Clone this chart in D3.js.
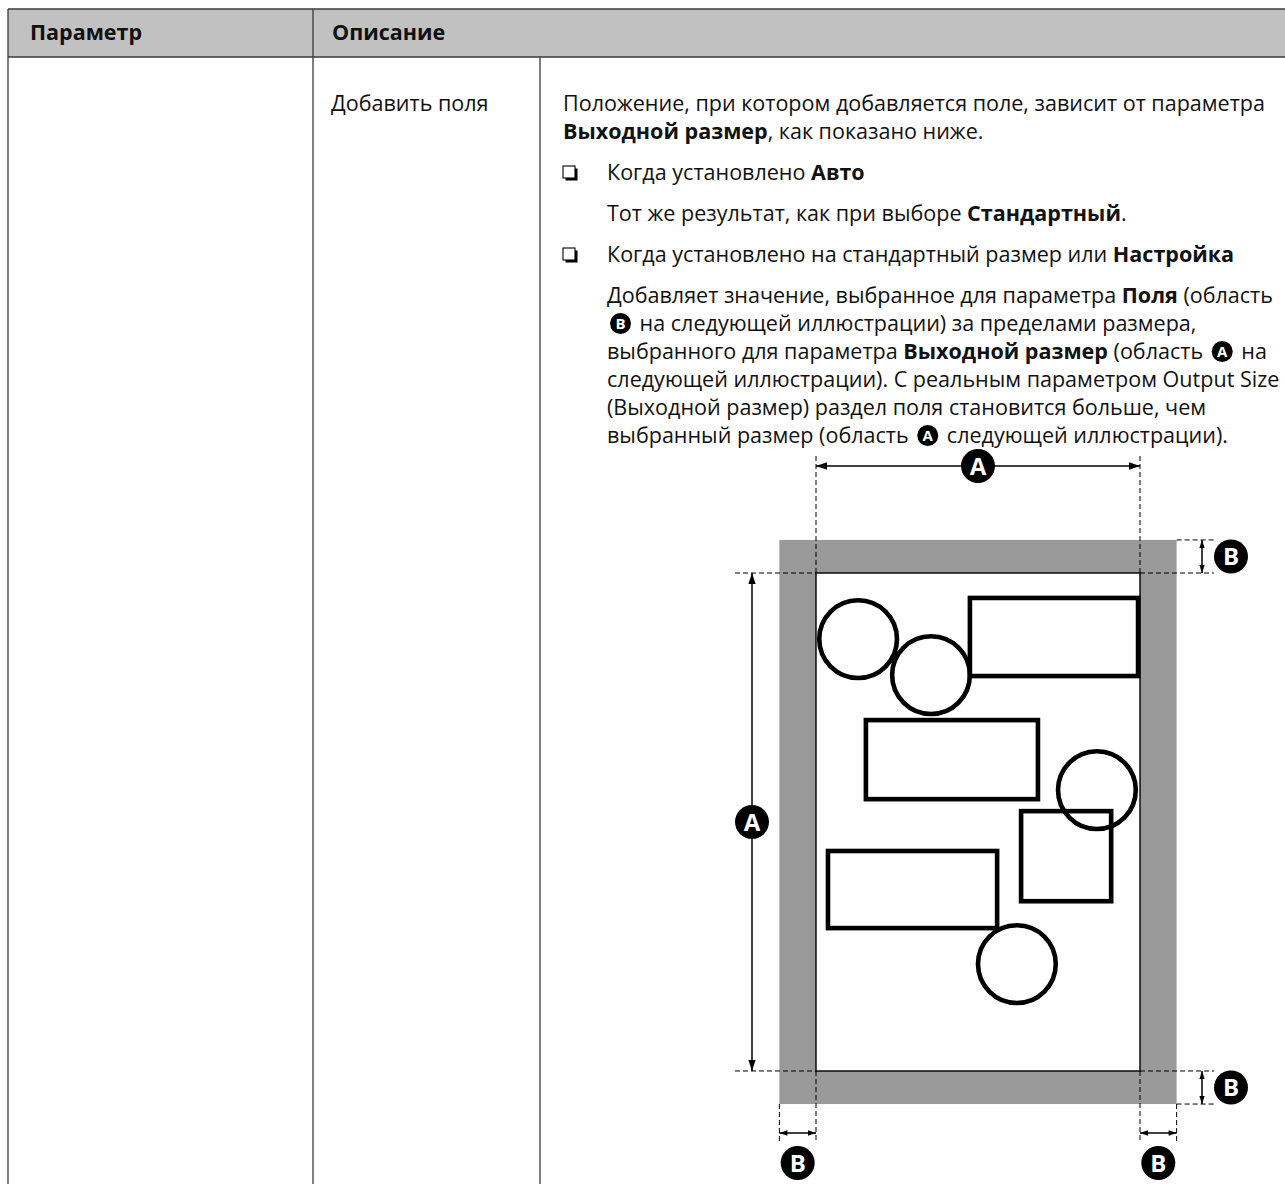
<!DOCTYPE html>
<html><head><meta charset="utf-8">
<script src="https://cdn.jsdelivr.net/npm/d3@7"></script>
<style>body{margin:0;background:#fff}svg{display:block}text{white-space:pre}</style>
</head><body><svg id="c" width="1285" height="1184"></svg>
<script>
// ---------- DATA ----------
const headerLabels = ["Параметр", "Описание"];
const settingLabels = ["Добавить поля"];
// each line: list of [text, bold] or ["@A"] (circled label)
const introLines = [
  [["Положение, при котором добавляется поле, зависит от параметра", 0]],
  [["Выходной размер", 1], [", как показано ниже.", 0]]
];
const autoBullet = [[["Когда установлено ", 0], ["Авто", 1]]];
const autoText = [[["Тот же результат, как при выборе ", 0], ["Стандартный", 1], [".", 0]]];
const customBullet = [[["Когда установлено на стандартный размер или ", 0], ["Настройка", 1]]];
const customText = [
  [["Добавляет значение, выбранное для параметра ", 0], ["Поля", 1], [" (область", 0]],
  [["@B"], [" на следующей иллюстрации) за пределами размера,", 0]],
  [["выбранного для параметра ", 0], ["Выходной размер", 1], [" (область ", 0], ["@A"], [" на", 0]],
  [["следующей иллюстрации). С реальным параметром Output Size", 0]],
  [["(Выходной размер) раздел поля становится больше, чем", 0]],
  [["выбранный размер (область ", 0], ["@A"], [" следующей иллюстрации).", 0]]
];
// illustration, in units of the output size width (= 100)
const outputSize = [100, 153.7];      // area A (w, h)
const marginSize = [11.3, 10.2];      // area B (x, y)
const circleShapes = [[13.0, 20.4, 12], [35.5, 31.5, 12], [86.7, 67.0, 12], [62.0, 120.7, 12]];
const rectShapes = [[47.5, 7.7, 51.9, 24.1], [15.4, 45.4, 53.1, 24.4], [63.3, 73.5, 27.8, 27.8], [3.7, 85.8, 52.2, 23.8]];

// ---------- LAYOUT ----------
const W = 1285, H = 1184;
const svg = d3.select("#c");
const FONT = "'Open Sans','Noto Sans',sans-serif";
const tableL = 8, tableT = 9, headB = 57, col1 = 313, col2 = 540;
const textX = 563, indentX = 607, textRight = 1265;

// font size + horizontal condensing calibrated to the text column width
const fs = 21.2;
const probe = svg.append("text").attr("font-family", FONT).attr("font-size", fs).text(introLines[0][0][0]);
const natural = probe.node().getComputedTextLength();
probe.remove();
const sx = (textRight - textX) / natural;

function putText(parent, str, x0, yb, bold, size, fill) {
  const t = parent.append("text").attr("x", x0).attr("y", yb)
    .attr("font-family", FONT).attr("font-size", size).attr("font-weight", bold ? 700 : 400)
    .attr("fill", fill || "#111").text(str);
  const len = t.node().getComputedTextLength() * sx;
  t.attr("textLength", len).attr("lengthAdjust", "spacingAndGlyphs");
  return len;
}

// table
svg.append("rect").attr("x", tableL).attr("y", tableT).attr("width", W - tableL + 5).attr("height", headB - tableT)
  .attr("fill", "#c1c1c1");
const lineC = "#3a3a3a";
const hline = (x1, x2, yy) => svg.append("line").attr("x1", x1).attr("x2", x2).attr("y1", yy).attr("y2", yy).attr("stroke", lineC).attr("stroke-width", 1.3);
const vline = (xx, y1, y2) => svg.append("line").attr("x1", xx).attr("x2", xx).attr("y1", y1).attr("y2", y2).attr("stroke", lineC).attr("stroke-width", 1.3);
hline(tableL, W, tableT);
hline(tableL, W, headB);
vline(tableL, tableT, H);
vline(col1, tableT, H);
vline(col2, headB, H);

headerLabels.forEach((d, i) => putText(svg, d, [30, 332][i], 40, true, fs));
settingLabels.forEach(d => putText(svg, d, 331, 111, false, fs));

function badge(g, cx, cy, r, letter, size) {
  g.append("circle").attr("cx", cx).attr("cy", cy).attr("r", r).attr("fill", "#000");
  g.append("text").attr("x", cx).attr("y", cy).attr("dy", "0.36em").attr("text-anchor", "middle")
    .attr("font-family", FONT).attr("font-weight", 700).attr("font-size", size).attr("fill", "#fff").text(letter);
}

function drawLine(segs, x0, yb) {
  let xc = x0;
  segs.forEach(s => {
    if (s[0].startsWith("@")) {
      const r = 10.5;
      xc += 3;
      badge(svg, xc + r, yb - 7.5, r, s[0].slice(1), 15);
      xc += 2 * r + 3;
    } else {
      xc += putText(svg, s[0], xc, yb, s[1], fs);
    }
  });
}
function bulletBox(x0, yBase) {
  const s = 12, y0 = yBase - 14;
  svg.append("rect").attr("x", x0 + 2.5).attr("y", y0 + 2.5).attr("width", s).attr("height", s).attr("fill", "#000");
  svg.append("rect").attr("x", x0).attr("y", y0).attr("width", s).attr("height", s).attr("fill", "#fff").attr("stroke", "#000").attr("stroke-width", 1.1);
}

const paragraphs = [
  { lines: introLines, x: textX, bullet: false },
  { lines: autoBullet, x: indentX, bullet: true },
  { lines: autoText, x: indentX, bullet: false },
  { lines: customBullet, x: indentX, bullet: true },
  { lines: customText, x: indentX, bullet: false }
];
let yb = 111;
paragraphs.forEach((p, pi) => {
  if (pi > 0) yb += 13;
  p.lines.forEach((ln, li) => {
    if (p.bullet && li === 0) bulletBox(textX, yb);
    drawLine(ln, p.x, yb);
    yb += 28;
  });
});

// ---------- ILLUSTRATION ----------
const k = 3.24;
const x = d3.scaleLinear().domain([0, 100]).range([816, 816 + 100 * k]);
const y = d3.scaleLinear().domain([0, 100]).range([573, 573 + 100 * k]);
const g = svg.append("g");
const [aw, ah] = outputSize, [mx, my] = marginSize;
g.append("rect").attr("x", x(-mx)).attr("y", y(-my)).attr("width", x(aw + mx) - x(-mx)).attr("height", y(ah + my) - y(-my)).attr("fill", "#999");
g.append("rect").attr("x", x(0)).attr("y", y(0)).attr("width", x(aw) - x(0)).attr("height", y(ah) - y(0))
  .attr("fill", "#fff").attr("stroke", "#000").attr("stroke-width", 1.4);
g.selectAll("rect.shape").data(rectShapes).join("rect").attr("class", "shape")
  .attr("x", d => x(d[0])).attr("y", d => y(d[1])).attr("width", d => x(d[0] + d[2]) - x(d[0])).attr("height", d => y(d[1] + d[3]) - y(d[1]))
  .attr("fill", "none").attr("stroke", "#000").attr("stroke-width", 4.6);
g.selectAll("circle.shape").data(circleShapes).join("circle").attr("class", "shape")
  .attr("cx", d => x(d[0])).attr("cy", d => y(d[1])).attr("r", d => x(d[2]) - x(0))
  .attr("fill", "none").attr("stroke", "#000").attr("stroke-width", 4.6);

const dash = (x1, y1, x2, y2) => g.append("line").attr("x1", x1).attr("y1", y1).attr("x2", x2).attr("y2", y2)
  .attr("stroke", "#000").attr("stroke-width", 1).attr("stroke-dasharray", "5,3");
function arrow(x1, y1, x2, y2, head) {
  g.append("line").attr("x1", x1).attr("y1", y1).attr("x2", x2).attr("y2", y2).attr("stroke", "#000").attr("stroke-width", 1.5);
  const ang = Math.atan2(y2 - y1, x2 - x1);
  [[x1, y1, ang + Math.PI], [x2, y2, ang]].forEach(([px, py, a]) => {
    const bx = px - head * Math.cos(a), by = py - head * Math.sin(a);
    const w = head * 0.33;
    g.append("path").attr("d", `M${px},${py}L${bx - w * Math.sin(a)},${by + w * Math.cos(a)}L${bx + w * Math.sin(a)},${by - w * Math.cos(a)}Z`).attr("fill", "#000");
  });
}
const L = x(0), R = x(aw), T = y(0), B = y(ah);
const OL = x(-mx), OR = x(aw + mx), OT = y(-my), OB = y(ah + my);
// top A dimension
const topA = 466;
dash(L, topA - 10, L, T); dash(R, topA - 10, R, T);
arrow(L, topA, R, topA, 11);
badge(g, (L + R) / 2, topA, 17, "A", 24);
// left A dimension
const leftA = 752;
dash(leftA - 17, T, L, T); dash(leftA - 17, B, L, B);
arrow(leftA, T, leftA, B, 11);
badge(g, leftA, (T + B) / 2, 17, "A", 24);
// right B dimensions
const rB = 1202;
dash(OR, OT, rB + 12, OT); dash(R, T, rB + 12, T);
dash(R, B, rB + 12, B); dash(OR, OB, rB + 12, OB);
arrow(rB, OT, rB, T, 8); arrow(rB, B, rB, OB, 8);
badge(g, 1231, (OT + T) / 2, 17, "B", 24);
badge(g, 1231, (B + OB) / 2, 17, "B", 24);
// bottom B dimensions
const bB = 1133;
dash(OL, OB, OL, bB + 8); dash(L, B, L, bB + 8);
dash(R, B, R, bB + 8); dash(OR, OB, OR, bB + 8);
arrow(OL, bB, L, bB, 8); arrow(R, bB, OR, bB, 8);
badge(g, (OL + L) / 2, 1163, 17, "B", 24);
badge(g, (R + OR) / 2, 1163, 17, "B", 24);
</script></body></html>
